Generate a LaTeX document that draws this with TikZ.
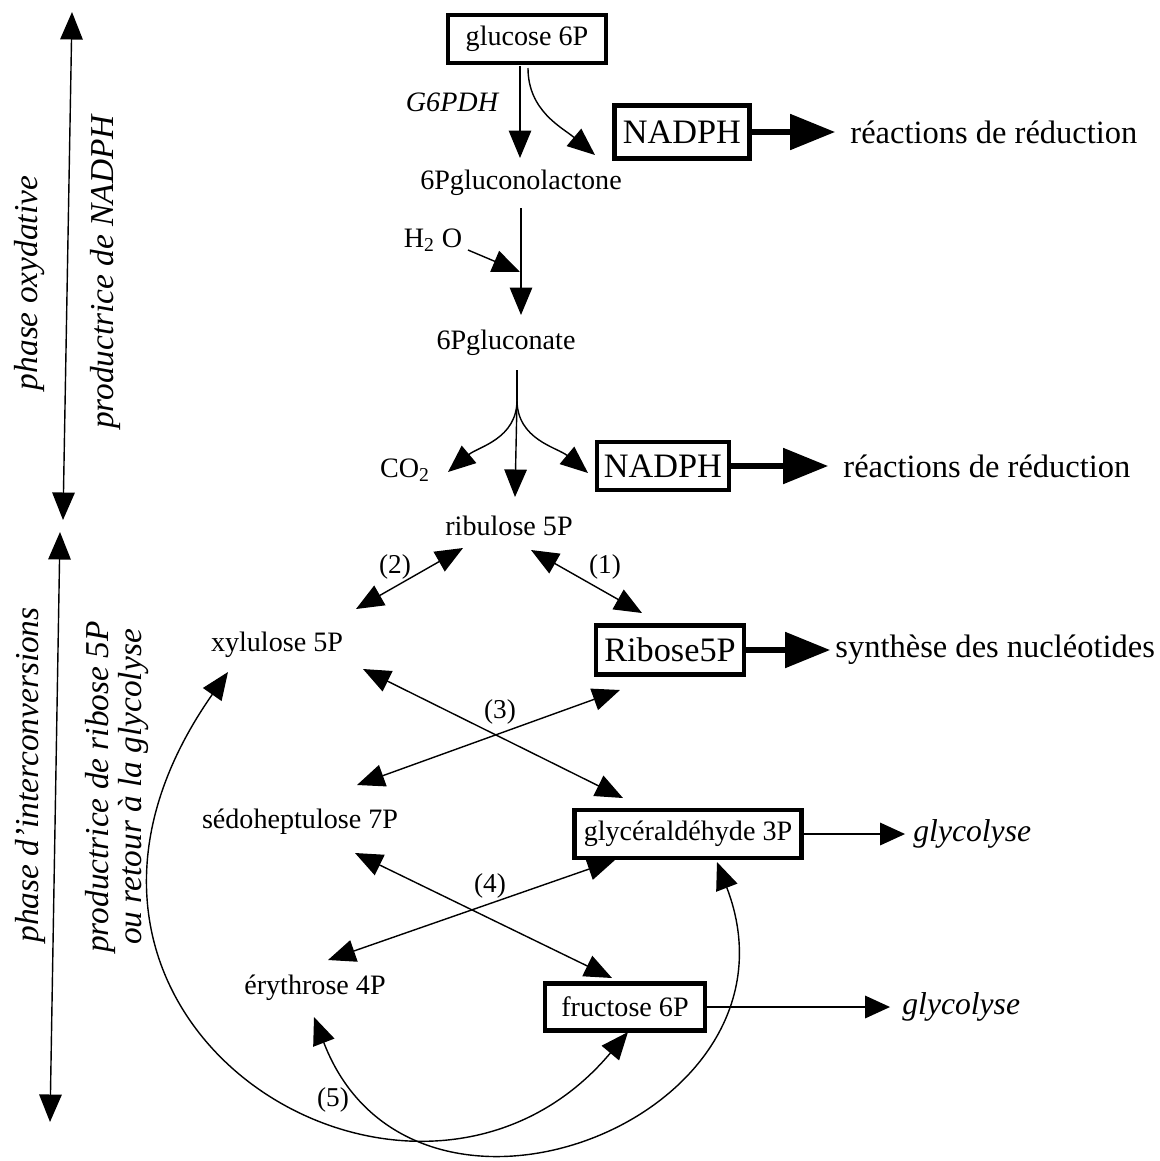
\documentclass[tikz,border=0pt]{standalone}
\usepackage{fontspec}
\setmainfont{Liberation Serif}
\usetikzlibrary{arrows.meta,positioning,calc}

\begin{document}
\begin{tikzpicture}[
        x=0.02cm, y=0.02cm,
        >={Triangle[length=5.5mm,width=4.5mm]},
        metab/.style={font=\fontsize{16}{19}\selectfont, inner sep=2pt},
        enzyme/.style={font=\fontsize{16}{19}\selectfont\itshape},
        rxn/.style={font=\fontsize{15.5}{18}\selectfont},
        pool/.style={draw, line width=2.4pt, inner sep=2pt, font=\fontsize{16}{19}\selectfont},
        cofactor/.style={pool, font=\fontsize{19.5}{23}\selectfont},
        fate/.style={inner sep=0pt, font=\fontsize{18.5}{22}\selectfont},
        glyco/.style={inner sep=0pt, font=\fontsize{18}{22}\selectfont\itshape},
        side/.style={rotate=90, align=center, font=\fontsize{19}{19}\selectfont\itshape},
        conv/.style={draw, line width=0.8pt, ->},
        rev/.style={draw, line width=0.8pt, <->},
        export/.style={draw, line width=3pt, -{Triangle[length=9mm,width=7mm]}},
        drain/.style={draw, line width=1pt, -{Triangle[length=5mm,width=4.5mm]}}
    ]
        \useasboundingbox (0,0) rectangle (1160,-1161);

        \node[pool, minimum width=3.16cm, minimum height=0.96cm] (glc) at (527,-39) {glucose 6P};
        \node[enzyme] (g6pdh) at (452,-102) {G6PDH};
        \node[cofactor, minimum width=2.7cm, minimum height=1.06cm] (nadph1) at (682,-132) {NADPH};
        \node[fate, right=1.97cm of nadph1] (red1) {réactions de réduction};
        \node[metab] (lact) at (521,-183) {6Pgluconolactone};
        \node[metab] (h2o) at (433,-240) {H\textsubscript{2} O};
        \node[metab] (gluc) at (506,-343) {6Pgluconate};
        \node[metab] (co2) at (405,-470) {CO\textsubscript{2}};
        \node[cofactor, minimum width=2.64cm, minimum height=0.96cm] (nadph2) at (663,-466) {NADPH};
        \node[fate, right=2.24cm of nadph2] (red2) {réactions de réduction};
        \node[metab] (ribu) at (509,-526) {ribulose 5P};
        \node[rxn] (n2) at (395,-567) {(2)};
        \node[rxn] (n1) at (605,-567) {(1)};
        \node[metab] (xylu) at (277,-645) {xylulose 5P};
        \node[cofactor, minimum width=2.96cm, minimum height=0.98cm] (ribo) at (670,-650) {Ribose5P};
        \node[fate, right=1.78cm of ribo] (nucl) {synthèse des nucléotides};
        \node[rxn] (n3) at (500,-712) {(3)};
        \node[metab] (sedo) at (300,-822) {sédoheptulose 7P};
        \node[pool, minimum width=4.54cm, minimum height=0.96cm] (gap) at (688,-834) {glycéraldéhyde 3P};
        \node[glyco, right=2.19cm of gap] (glyco1) {glycolyse};
        \node[rxn] (n4) at (490,-886) {(4)};
        \node[metab] (ery) at (315,-988) {érythrose 4P};
        \node[pool, minimum width=3.2cm, minimum height=0.94cm] (f6p) at (625,-1007) {fructose 6P};
        \node[glyco, right=3.9cm of f6p] (glyco2) {glycolyse};
        \node[rxn] (n5) at (333,-1100) {(5)};

        \node[side] (phox) at (30,-283) {phase oxydative};
        \node[side] (prodnadph) at (105,-272) {productrice de NADPH};
        \node[side] (phint) at (30,-775) {phase d'interconversions};
        \node[side] (prodrib) at (117,-787) {productrice de ribose 5P\\ ou retour à la glycolyse};
        \coordinate (oxtop) at (72,-12);
        \coordinate (oxbot) at (63,-520);
        \coordinate (inttop) at (60,-532);
        \coordinate (intbot) at (50,-1122);
        \path[rev] (oxtop) -- (oxbot);
        \path[rev] (inttop) -- (intbot);

        \path[conv] ($(glc)+(-7,-27)$) -- ($(lact)+(-1,25)$);
        \path[conv] ($(glc)+(1,-29)$) to[out=270,in=140] ($(nadph1)+(-87,-23)$);
        \path[export] (nadph1) -- ($(red1.west)+(-15,0)$);
        \path[conv] ($(lact)+(0,-25)$) -- ($(gluc)+(15,28)$);
        \path[conv] ($(h2o)+(35,-10)$) -- ($(lact)+(-1,-89)$);
        \coordinate (fork) at ($(gluc)+(11,-57)$);
        \path[draw, line width=0.8pt] ($(gluc)+(11,-27)$) -- (fork);
        \path[conv] (fork) -- ($(ribu)+(6,29)$);
        \path[conv] (fork) to[out=270,in=40] ($(co2)+(43,-2)$);
        \path[conv] (fork) to[out=270,in=140] ($(nadph2)+(-75,-7)$);
        \path[export] (nadph2) -- ($(red2.west)+(-15,0)$);

        \path[rev] ($(ribu)+(-46,-22)$) -- ($(xylu)+(79,36)$);
        \path[rev] ($(ribu)+(22,-24)$) -- ($(ribo)+(-28,37)$);
        \path[export] (ribo) -- ($(nucl.west)+(-5,0)$);
        \path[rev] ($(xylu)+(86,-24)$) -- ($(gap)+(-65,36)$);
        \path[rev] ($(ribo)+(-50,-40)$) -- ($(sedo)+(57,37)$);
        \path[rev] ($(sedo)+(55,-31)$) -- ($(f6p)+(-13,29)$);
        \path[rev] ($(gap)+(-73,-26)$) -- ($(ery)+(13,28)$);
        \path[drain] (gap) -- ($(glyco1.west)+(-8,0)$);
        \path[drain] (f6p) -- ($(glyco2.west)+(-12,0)$);

        \path[rev] ($(xylu)+(-49,-27)$) to[out=235,in=230,out distance=8.6cm,in distance=6.6cm] ($(f6p)+(3,-25)$);
        \path[rev] ($(ery)+(-1,-29)$) to[out=291,in=291,distance=5.5cm] ($(gap)+(29,-28)$);
    \end{tikzpicture}
\end{document}
